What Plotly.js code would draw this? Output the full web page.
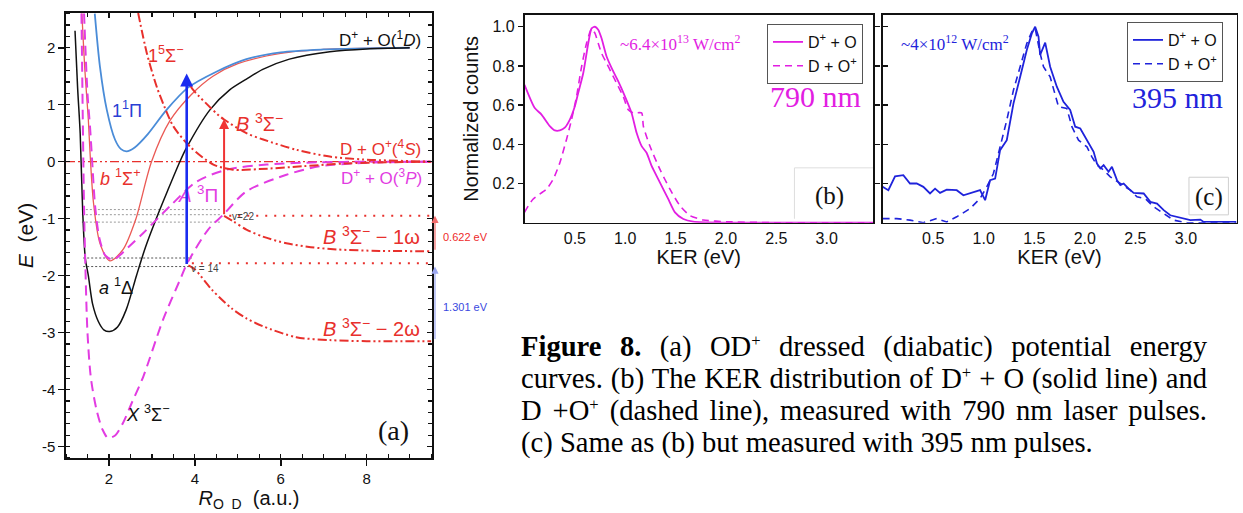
<!DOCTYPE html>
<html>
<head>
<meta charset="utf-8">
<script src="https://cdn.plot.ly/plotly-3.0.1.min.js"></script>
<style>
  body { margin: 0; background: #fff; }
  #wrap { position: relative; width: 1243px; height: 513px; overflow: hidden; background: #fff; }
  #chart { position: absolute; left: 0; top: 0; width: 1243px; height: 513px; }
  #caption { position: absolute; left: 521px; top: 331px; width: 686px;
             font-family: "Liberation Serif", "Times New Roman", serif; font-size: 28.6px;
             line-height: 32px; color: #000; }
  #caption div { height: 32px; }
  #caption .j { text-align: justify; text-align-last: justify; }
  #caption .l { text-align: left; }
  #caption sup { font-size: 58%; line-height: 0; vertical-align: 0; position: relative; top: -0.6em; }
</style>
</head>
<body>
<div id="wrap">
  <div id="chart"></div>
  <div id="caption">
    <div class="j"><b>Figure 8.</b> (a) OD<sup>+</sup> dressed (diabatic) potential energy</div>
    <div class="j">curves. (b) The KER distribution of D<sup>+</sup> + O (solid line) and</div>
    <div class="j">D +O<sup>+</sup> (dashed line), measured with 790 nm laser pulses.</div>
    <div class="l">(c) Same as (b) but measured with 395 nm pulses.</div>
  </div>
</div>
<script>
// ---------- (a) OD+ dressed potential energy curves: R (a.u.), E (eV) ----------
const a1Delta_R = [1.21, 1.27, 1.33, 1.39, 1.45, 1.52, 1.62, 1.75, 1.88, 2.02, 2.2, 2.4, 2.64, 2.85, 3.1, 3.37, 3.65, 3.81, 4.35, 4.81, 5.2, 5.58, 6.2, 7.14, 8.0, 9.0];
const a1Delta_E = [2.3, 1.3, 0.5, -0.9, -1.7, -2.0, -2.5, -2.8, -2.95, -2.98, -2.9, -2.6, -2.0, -1.5, -1.0, -0.5, 0.0, 0.25, 0.91, 1.26, 1.45, 1.62, 1.8, 1.93, 1.98, 2.0];

const pi1_R = [1.67, 1.79, 1.95, 2.14, 2.28, 2.41, 2.6, 2.9, 3.34, 3.84, 4.5, 5.2, 6.0, 7.0, 8.0, 9.0];
const pi1_E = [2.6, 1.67, 0.91, 0.39, 0.22, 0.18, 0.25, 0.48, 0.91, 1.3, 1.58, 1.8, 1.92, 1.97, 1.99, 2.0];

const b1Sigma_R = [1.37, 1.44, 1.52, 1.56, 1.64, 1.79, 2.02, 2.33, 2.62, 2.99, 3.42, 3.92, 4.42, 5.0, 6.0, 7.0, 8.0, 9.0];
const b1Sigma_E = [2.6, 1.6, 0.74, 0.15, -0.72, -1.43, -1.74, -1.54, -1.02, 0.0, 0.72, 1.18, 1.5, 1.72, 1.9, 1.97, 1.99, 2.0];

const X3Sigma_R = [1.36, 1.39, 1.42, 1.45, 1.5, 1.58, 1.71, 1.85, 1.98, 2.15, 2.33, 2.55, 2.8, 3.26, 3.69, 3.81, 4.31, 4.66, 5.2, 6.13, 6.9, 8.0, 9.5];
const X3Sigma_E = [2.6, 0.8, -0.8, -1.8, -3.0, -3.8, -4.35, -4.7, -4.85, -4.8, -4.58, -4.2, -3.77, -2.77, -2.01, -1.8, -1.19, -0.93, -0.52, -0.23, -0.08, -0.02, 0.0];

const A3Pi_R = [1.42, 1.5, 1.56, 1.61, 1.68, 1.78, 1.92, 2.1, 2.45, 2.8, 3.42, 4.04, 4.74, 5.67, 6.9, 8.0, 9.5];
const A3Pi_E = [2.6, 1.2, 0.6, 0.0, -0.8, -1.35, -1.65, -1.72, -1.5, -1.25, -0.78, -0.35, -0.14, -0.05, -0.01, 0.0, 0.0];

const quint_R = [2.68, 2.88, 3.11, 3.3, 3.5, 3.88, 4.43, 4.89, 5.5, 6.5, 7.5, 8.5, 9.5];
const quint_E = [2.61, 1.91, 1.32, 0.95, 0.62, 0.27, -0.05, -0.14, -0.13, -0.08, -0.03, -0.01, 0.0];

const B3Sigma_R = [3.9, 3.96, 4.5, 4.68, 5.2, 5.59, 6.36, 7.14, 7.91, 9.5];
const B3Sigma_E = [1.33, 1.26, 0.85, 0.74, 0.5, 0.39, 0.21, 0.09, 0.04, 0.0];

const B3Sigma1w_R = [4.68, 4.9, 5.2, 5.6, 6.13, 6.7, 7.3, 8.3, 9.5];
const B3Sigma1w_E = [-0.95, -1.05, -1.19, -1.32, -1.43, -1.5, -1.54, -1.565, -1.57];

const B3Sigma2w_R = [3.85, 4.0, 4.4, 4.85, 5.2, 5.59, 6.36, 7.14, 8.0, 9.5];
const B3Sigma2w_E = [-1.82, -1.89, -2.25, -2.57, -2.75, -2.89, -3.08, -3.13, -3.15, -3.15];

// dissociation limit and vibrational levels (eV)
const limitE = 0.0;
const levelLabels = ['v=22', 'v = 14'];
const levelR = [4.68, 3.81];
const levelE = [-0.95, -1.82];
const arrowTopE = [0.75, 1.55];
const greyLevels = [-0.84, -0.93, -1.06];
const blackLevels = [-1.69, -1.84];
const gapLabels = ['0.622 eV', '1.301 eV'];
const gapFrom = [-1.57, -3.14];
const gapTo = [-0.95, -1.84];

const ticksA_x = [2, 4, 6, 8];
const ticksA_y = [2, 1, 0, -1, -2, -3, -4, -5];
const ticksA_yText = ['2', '1', '0', '-1', '-2', '-3', '-4', '-5'];

// ---------- (b) KER, 790 nm ----------
const ker790_solid_x = [0, 0.102, 0.169, 0.251, 0.301, 0.351, 0.4, 0.45, 0.5, 0.533, 0.583, 0.633, 0.666, 0.699, 0.732, 0.765, 0.815, 0.881, 0.931, 0.997, 1.063, 1.113, 1.163, 1.212, 1.262, 1.345, 1.428, 1.494, 1.577, 1.676, 2.0, 2.5, 3.0, 3.46];
const ker790_solid_y = [0.704, 0.585, 0.552, 0.493, 0.471, 0.471, 0.485, 0.526, 0.594, 0.662, 0.763, 0.916, 0.992, 1.0, 0.985, 0.941, 0.848, 0.772, 0.721, 0.645, 0.56, 0.459, 0.391, 0.357, 0.29, 0.205, 0.12, 0.053, 0.019, 0.005, 0.0, 0.0, 0.0, 0.0];
const ker790_dash_x = [0, 0.084, 0.218, 0.285, 0.351, 0.417, 0.467, 0.517, 0.567, 0.616, 0.666, 0.699, 0.732, 0.765, 0.815, 0.865, 0.914, 0.98, 1.03, 1.08, 1.163, 1.18, 1.245, 1.345, 1.444, 1.544, 1.643, 1.776, 2.007, 2.5, 3.0, 3.46];
const ker790_dash_y = [0.053, 0.12, 0.171, 0.222, 0.306, 0.425, 0.526, 0.645, 0.797, 0.916, 0.99, 0.967, 0.916, 0.865, 0.814, 0.763, 0.712, 0.645, 0.577, 0.56, 0.56, 0.493, 0.391, 0.272, 0.171, 0.086, 0.036, 0.014, 0.005, 0.0, 0.0, 0.0];

// ---------- (c) KER, 395 nm ----------
const ker395_solid_x = [0, 0.057, 0.123, 0.205, 0.271, 0.337, 0.403, 0.469, 0.519, 0.568, 0.634, 0.733, 0.799, 0.865, 0.964, 1.014, 1.063, 1.113, 1.162, 1.228, 1.294, 1.36, 1.426, 1.476, 1.509, 1.542, 1.558, 1.608, 1.657, 1.723, 1.789, 1.855, 1.905, 1.955, 2.021, 2.087, 2.12, 2.153, 2.186, 2.235, 2.268, 2.318, 2.351, 2.384, 2.433, 2.483, 2.582, 2.648, 2.714, 2.78, 2.845, 2.911, 2.977, 3.043, 3.142, 3.175, 3.5];
const ker395_solid_y = [0.183, 0.166, 0.237, 0.243, 0.2, 0.2, 0.183, 0.149, 0.174, 0.152, 0.169, 0.166, 0.14, 0.149, 0.166, 0.115, 0.217, 0.225, 0.37, 0.421, 0.608, 0.744, 0.881, 0.966, 1.0, 0.949, 0.856, 0.919, 0.796, 0.694, 0.617, 0.575, 0.49, 0.481, 0.421, 0.362, 0.302, 0.277, 0.294, 0.26, 0.285, 0.217, 0.192, 0.2, 0.174, 0.152, 0.149, 0.106, 0.098, 0.064, 0.038, 0.03, 0.021, 0.013, 0.016, 0.004, 0.004];
const ker395_dash_x = [0, 0.139, 0.271, 0.403, 0.535, 0.634, 0.733, 0.865, 0.964, 1.03, 1.096, 1.162, 1.228, 1.294, 1.36, 1.426, 1.476, 1.509, 1.558, 1.591, 1.657, 1.74, 1.822, 1.872, 1.938, 2.021, 2.07, 2.12, 2.186, 2.252, 2.351, 2.45, 2.516, 2.598, 2.681, 2.78, 2.879, 3.01, 3.5];
const ker395_dash_y = [0.021, 0.021, 0.013, 0.0, 0.021, 0.004, 0.03, 0.072, 0.123, 0.183, 0.251, 0.387, 0.523, 0.676, 0.796, 0.915, 0.975, 0.992, 0.864, 0.796, 0.744, 0.592, 0.583, 0.49, 0.421, 0.387, 0.336, 0.294, 0.268, 0.234, 0.2, 0.166, 0.132, 0.123, 0.081, 0.047, 0.013, 0.0, 0.0];

const kerTicks = [0.5, 1.0, 1.5, 2.0, 2.5, 3.0];
const countTicks = [0.2, 0.4, 0.6, 0.8, 1.0];

// ---------- styling ----------
const W = 1243, H = 513;
const px = v => v / W;
const py = v => 1 - v / H;
const SANS = 'Liberation Sans, Arial, sans-serif';
const SERIF = 'Liberation Serif, Times New Roman, serif';
const RED = '#e8302c', MAG = '#e23ce2', BLUEPI = '#4a8cd8', BLK = '#111111';
const MAG_B = '#e21ee2', BLUE_C = '#1f23db';
const DASHDOT = '9px,3px,2px,3px';
const DASHDOTDOT = '9px,3px,2px,3px,2px,3px';
const RMIN = 1.0, RMAX = 9.52;
const E_RANGE = [-5.2, 2.61];

const traces = [];
function curveA(x, y, color, width, dash, shape) {
  traces.push({ type: 'scatter', mode: 'lines', x: x, y: y, xaxis: 'x', yaxis: 'y',
    line: { color: color, width: width, dash: dash || 'solid', shape: shape || 'spline', smoothing: 0.8 },
    hoverinfo: 'skip', showlegend: false });
}

// vibrational level guides
greyLevels.forEach(e => curveA([1.37, 4.6], [e, e], '#9a9a9a', 1, '2px,2px', 'linear'));
blackLevels.forEach(e => curveA([1.4, 3.93], [e, e], '#555555', 1, '2px,2px', 'linear'));
curveA([RMIN, RMAX], [limitE, limitE], RED, 1.3, DASHDOTDOT, 'linear');
curveA([levelR[0] + 0.12, RMAX], [levelE[0], levelE[0]], RED, 2, '2px,7px', 'linear');
curveA([levelR[1] + 0.12, RMAX], [levelE[1] + 0.04, levelE[1] + 0.04], RED, 2, '2px,7px', 'linear');

// diabatic curves
curveA(b1Sigma_R, b1Sigma_E, '#ea5a55', 1.3);
curveA(pi1_R, pi1_E, BLUEPI, 1.8);
curveA(a1Delta_R, a1Delta_E, BLK, 1.5);
curveA(X3Sigma_R, X3Sigma_E, MAG, 2, '10px,6px');
curveA(A3Pi_R, A3Pi_E, MAG, 2, '10px,6px');
curveA(quint_R, quint_E, RED, 2, DASHDOT);
curveA(B3Sigma_R, B3Sigma_E, RED, 2, DASHDOTDOT);
curveA(B3Sigma1w_R, B3Sigma1w_E, RED, 2, DASHDOTDOT);
curveA(B3Sigma2w_R, B3Sigma2w_E, RED, 2, DASHDOTDOT);

// (b) and (c) KER distributions
traces.push({ type: 'scatter', mode: 'lines', x: ker790_solid_x, y: ker790_solid_y, xaxis: 'x2', yaxis: 'y2',
  name: 'D<sup>+</sup> + O', legend: 'legend', line: { color: MAG_B, width: 1.8, shape: 'spline', smoothing: 0.6 }, hoverinfo: 'skip' });
traces.push({ type: 'scatter', mode: 'lines', x: ker790_dash_x, y: ker790_dash_y, xaxis: 'x2', yaxis: 'y2',
  name: 'D + O<sup>+</sup>', legend: 'legend', line: { color: MAG_B, width: 1.6, dash: '7px,5px', shape: 'spline', smoothing: 0.6 }, hoverinfo: 'skip' });
traces.push({ type: 'scatter', mode: 'lines', x: ker395_solid_x, y: ker395_solid_y, xaxis: 'x3', yaxis: 'y3',
  name: 'D<sup>+</sup> + O', legend: 'legend2', line: { color: BLUE_C, width: 1.8 }, hoverinfo: 'skip' });
traces.push({ type: 'scatter', mode: 'lines', x: ker395_dash_x, y: ker395_dash_y, xaxis: 'x3', yaxis: 'y3',
  name: 'D + O<sup>+</sup>', legend: 'legend2', line: { color: BLUE_C, width: 1.6, dash: '7px,5px' }, hoverinfo: 'skip' });
// carrier for the inner tick axes on top/right of (a)
traces.push({ type: 'scatter', mode: 'lines', x: [], y: [], xaxis: 'x4', yaxis: 'y4', showlegend: false, hoverinfo: 'skip' });

// ---------- annotations ----------
const ann = [];
function lab(x, y, text, color, size, extra) {
  ann.push(Object.assign({ xref: 'x', yref: 'y', x: x, y: y, text: text, showarrow: false,
    font: { family: SANS, size: size, color: color } }, extra || {}));
}
lab(8.3, 2.16, 'D<sup>+</sup> + O(<sup>1</sup><i>D</i>)', BLK, 17);
lab(3.33, 1.88, '1<sup>5</sup>Σ<sup>−</sup>', RED, 18);
lab(2.42, 0.91, '1<sup>1</sup>Π', '#2a40d4', 18);
lab(2.28, -0.28, '<i>b</i> <sup>1</sup>Σ<sup>+</sup>', RED, 18);
lab(4.08, -0.56, '<i>A</i> <sup>3</sup>Π', MAG, 19);
lab(5.5, 0.68, '<i>B</i> <sup>3</sup>Σ<sup>−</sup>', RED, 20);
lab(8.33, 0.24, 'D + O<sup>+</sup>(<sup>4</sup><i>S</i>)', RED, 17);
lab(8.35, -0.27, 'D<sup>+</sup> + O(<sup>3</sup><i>P</i>)', MAG, 17);
lab(8.12, -1.3, '<i>B</i> <sup>3</sup>Σ<sup>−</sup> − 1ω', RED, 20);
lab(8.1, -2.91, '<i>B</i> <sup>3</sup>Σ<sup>−</sup> − 2ω', RED, 20);
lab(2.16, -2.19, '<i>a</i> <sup>1</sup>Δ', BLK, 18);
lab(2.92, -4.42, '<i>X</i> <sup>3</sup>Σ<sup>−</sup>', BLK, 18);
ann.push({ xref: 'x', yref: 'y', x: 8.62, y: -4.72, text: '(a)', showarrow: false,
  font: { family: SERIF, size: 28, color: BLK } });
lab(levelR[0] + 0.14, levelE[0] - 0.02, levelLabels[0], '#444', 10, { xanchor: 'left' });
lab(levelR[1] + 0.06, levelE[1] - 0.06, levelLabels[1], '#444', 10, { xanchor: 'left' });

// excitation arrows
ann.push({ xref: 'x', yref: 'y', x: levelR[1], y: arrowTopE[1], axref: 'x', ayref: 'y', ax: levelR[1], ay: levelE[1],
  text: '', showarrow: true, arrowhead: 2, arrowsize: 1, arrowwidth: 2.6, arrowcolor: '#1a2cf0', standoff: 0 });
ann.push({ xref: 'x', yref: 'y', x: levelR[0], y: arrowTopE[0], axref: 'x', ayref: 'y', ax: levelR[0], ay: levelE[0],
  text: '', showarrow: true, arrowhead: 2, arrowsize: 1, arrowwidth: 2, arrowcolor: '#f03434', standoff: 0 });

// energy gaps beside the frame
const gapX = px(435);
const gapColors = ['#ee2a2a', '#3a48e0'];
gapLabels.forEach((t, i) => {
  ann.push({ xref: 'paper', yref: 'y', x: gapX, y: gapTo[i], axref: 'pixel', ayref: 'y', ax: 0, ay: gapFrom[i],
    text: '', showarrow: true, arrowhead: 2, arrowsize: 1.2, arrowwidth: 1.2, arrowcolor: i ? '#9aa6f0' : '#f06a6a', standoff: 0 });
  ann.push({ xref: 'paper', yref: 'y', x: px(441), y: (gapFrom[i] + gapTo[i]) / 2 - 0.06, xanchor: 'left', text: t,
    showarrow: false, font: { family: SANS, size: 11, color: gapColors[i] } });
});

// (b) labels
ann.push({ xref: 'x2', yref: 'y2', x: 1.54, y: 0.915, text: '~6.4×10<sup>13</sup> W/cm<sup>2</sup>', showarrow: false,
  font: { family: SERIF, size: 17, color: MAG_B } });
ann.push({ xref: 'x2', yref: 'y2', x: 2.89, y: 0.645, text: '790 nm', showarrow: false,
  font: { family: SERIF, size: 30, color: MAG_B } });
ann.push({ xref: 'x2', yref: 'y2', x: 3.03, y: 0.137, text: '(b)', showarrow: false,
  font: { family: SERIF, size: 25, color: BLK } });
// (c) labels
ann.push({ xref: 'x3', yref: 'y3', x: 0.72, y: 0.915, text: '~4×10<sup>12</sup> W/cm<sup>2</sup>', showarrow: false,
  font: { family: SERIF, size: 17, color: BLUE_C } });
ann.push({ xref: 'x3', yref: 'y3', x: 2.92, y: 0.64, text: '395 nm', showarrow: false,
  font: { family: SERIF, size: 30, color: BLUE_C } });
ann.push({ xref: 'x3', yref: 'y3', x: 3.23, y: 0.13, text: '(c)', showarrow: false,
  font: { family: SERIF, size: 25, color: BLK } });

const shapes = [
  { type: 'rect', xref: 'x3', yref: 'y3', x0: 3.03, x1: 3.42, y0: 0.04, y1: 0.232, line: { color: '#cfcfcf', width: 1 } },
  { type: 'path', xref: 'x2', yref: 'y2', path: 'M 2.68 0.02 L 2.68 0.28 L 3.46 0.28', line: { color: '#dedede', width: 1 } }
];

// ---------- axes ----------
const domAx = [px(66), px(432)], domAy = [py(458), py(13)];
const domBx = [px(524.5), px(873)], domCx = [px(882.6), px(1236.5)];
const domBCy = [py(222.7), py(15)];
const tickFontA = { family: SANS, size: 15, color: BLK };
const tickFontK = { family: SANS, size: 16, color: BLK };

const layout = {
  width: W, height: H, margin: { l: 0, r: 0, t: 0, b: 0 },
  paper_bgcolor: 'rgba(0,0,0,0)', plot_bgcolor: 'rgba(0,0,0,0)',
  showlegend: true,
  xaxis: { domain: domAx, range: [RMIN, RMAX], anchor: 'y', tickmode: 'array', tickvals: ticksA_x,
    ticks: 'outside', ticklen: 6, tickwidth: 1.5, tickcolor: BLK,
    minor: { tickmode: 'linear', tick0: 1, dtick: 0.5, ticks: 'inside', ticklen: 4, tickwidth: 1.2, tickcolor: BLK },
    showline: true, linecolor: BLK, linewidth: 1.6, mirror: true, showgrid: false, zeroline: false,
    tickfont: tickFontA,
    title: { text: '<i>R</i><sub>O  D</sub>  (a.u.)', font: { family: SANS, size: 20, color: BLK }, standoff: 4 } },
  yaxis: { domain: domAy, range: E_RANGE, anchor: 'x', tickmode: 'array', tickvals: ticksA_y, ticktext: ticksA_yText,
    ticks: 'outside', ticklen: 6, tickwidth: 1.5, tickcolor: BLK,
    minor: { tickmode: 'linear', tick0: 0, dtick: 0.2, ticks: 'inside', ticklen: 4, tickwidth: 1.2, tickcolor: BLK },
    showline: true, linecolor: BLK, linewidth: 1.6, mirror: true, showgrid: false, zeroline: false,
    tickfont: tickFontA,
    title: { text: '<i>E</i>  (eV)', font: { family: SANS, size: 21, color: BLK }, standoff: 3 } },
  xaxis4: { overlaying: 'x', anchor: 'y4', side: 'top', range: [RMIN, RMAX], tickmode: 'array', tickvals: ticksA_x,
    ticks: 'inside', ticklen: 5, tickwidth: 1.3, tickcolor: BLK, showticklabels: false,
    minor: { tickmode: 'linear', tick0: 1, dtick: 0.5, ticks: 'inside', ticklen: 4, tickwidth: 1.2, tickcolor: BLK },
    showline: false, showgrid: false, zeroline: false },
  yaxis4: { overlaying: 'y', anchor: 'x4', side: 'right', range: E_RANGE, tickmode: 'array', tickvals: ticksA_y,
    ticks: 'inside', ticklen: 5, tickwidth: 1.3, tickcolor: BLK, showticklabels: false,
    minor: { tickmode: 'linear', tick0: 0, dtick: 0.2, ticks: 'inside', ticklen: 4, tickwidth: 1.2, tickcolor: BLK },
    showline: false, showgrid: false, zeroline: false },

  xaxis2: { domain: domBx, range: [0, 3.46], anchor: 'y2', tickmode: 'array', tickvals: kerTicks, tickformat: '.1f',
    ticks: '', showline: true, linecolor: BLK, linewidth: 1.6, mirror: true, showgrid: false, zeroline: false,
    tickfont: tickFontK, title: { text: 'KER (eV)', font: { family: SANS, size: 20, color: BLK }, standoff: 4 } },
  yaxis2: { domain: domBCy, range: [0, 1.06], anchor: 'x2', tickmode: 'array', tickvals: countTicks, tickformat: '.1f',
    ticks: 'outside', ticklen: 5, tickwidth: 1.3, tickcolor: BLK,
    showline: true, linecolor: BLK, linewidth: 1.6, mirror: 'ticks', showgrid: false, zeroline: false,
    tickfont: tickFontK, title: { text: 'Normalized counts', font: { family: SANS, size: 20, color: BLK }, standoff: 8 } },
  xaxis3: { domain: domCx, range: [0, 3.5], anchor: 'y3', tickmode: 'array', tickvals: kerTicks, tickformat: '.1f',
    ticks: '', showline: true, linecolor: BLK, linewidth: 1.6, mirror: true, showgrid: false, zeroline: false,
    tickfont: tickFontK, title: { text: 'KER (eV)', font: { family: SANS, size: 20, color: BLK }, standoff: 4 } },
  yaxis3: { domain: domBCy, range: [0, 1.06], anchor: 'x3', tickmode: 'array', tickvals: countTicks,
    ticks: 'inside', ticklen: 5, tickwidth: 1.3, tickcolor: BLK, showticklabels: false,
    showline: true, linecolor: BLK, linewidth: 1.6, mirror: true, showgrid: false, zeroline: false },

  legend: { x: px(767), y: py(24), xanchor: 'left', yanchor: 'top', bgcolor: '#ffffff',
    bordercolor: '#555', borderwidth: 1, font: { family: SANS, size: 16, color: BLK },
    tracegroupgap: 0, itemwidth: 30 },
  legend2: { x: px(1127), y: py(22), xanchor: 'left', yanchor: 'top', bgcolor: '#ffffff',
    bordercolor: '#555', borderwidth: 1, font: { family: SANS, size: 16, color: BLK },
    tracegroupgap: 0, itemwidth: 30 },
  annotations: ann,
  shapes: shapes
};

Plotly.newPlot('chart', traces, layout, { staticPlot: true, displayModeBar: false });
</script>
</body>
</html>
